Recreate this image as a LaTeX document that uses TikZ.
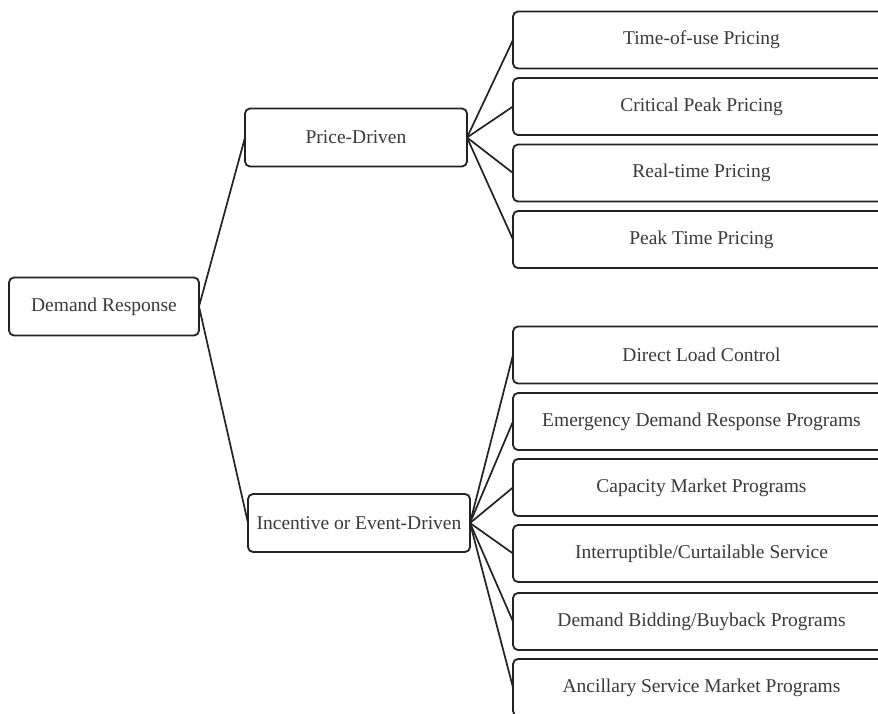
\documentclass[tikz,border=0pt]{standalone}
\usepackage{fontspec}
\setmainfont{Liberation Serif}
\definecolor{txt}{HTML}{3A3A3A}
\definecolor{ln}{HTML}{222222}
\tikzset{
  box/.style={draw=ln, line width=1.8pt, rounded corners=5pt, fill=white, text=txt,
    font=\fontsize{19.5}{23}\selectfont, inner sep=0pt, outer sep=0pt, align=center},
  lbox/.style={box, minimum width=222pt, minimum height=58pt},
  rbox/.style={box, minimum width=377pt, minimum height=57pt},
  link/.style={draw=ln, line width=1.7pt}
}
\begin{document}
\begin{tikzpicture}[x=1pt,y=-1pt]
\useasboundingbox (0,0) rectangle (878,713);
\clip (0,0) rectangle (878,713);
\node[box, minimum width=190pt, minimum height=58pt] (dr) at (104,306.5) {Demand Response};
\node[lbox] (pd) at (356,137.5) {Price-Driven};
\node[lbox] (ie) at (359,523) {Incentive or Event-Driven};
\node[rbox] (p1) at (701.5,40) {Time-of-use Pricing};
\node[rbox] (p2) at (701.5,106.5) {Critical Peak Pricing};
\node[rbox] (p3) at (701.5,173) {Real-time Pricing};
\node[rbox] (p4) at (701.5,239.5) {Peak Time Pricing};
\node[rbox] (i1) at (701.5,355) {Direct Load Control};
\node[rbox] (i2) at (701.5,421.5) {Emergency Demand Response Programs};
\node[rbox] (i3) at (701.5,487.5) {Capacity Market Programs};
\node[rbox] (i4) at (701.5,553.5) {Interruptible/Curtailable Service};
\node[rbox] (i5) at (701.5,621.5) {Demand Bidding/Buyback Programs};
\node[rbox] (i6) at (701.5,687.5) {Ancillary Service Market Programs};
\draw[link] (dr.east) -- (pd.west);
\draw[link] (dr.east) -- (ie.west);
\foreach \n in {p1,p2,p3,p4} \draw[link] (pd.east) -- (\n.west);
\foreach \n in {i1,i2,i3,i4,i5,i6} \draw[link] (ie.east) -- (\n.west);
\end{tikzpicture}
\end{document}
